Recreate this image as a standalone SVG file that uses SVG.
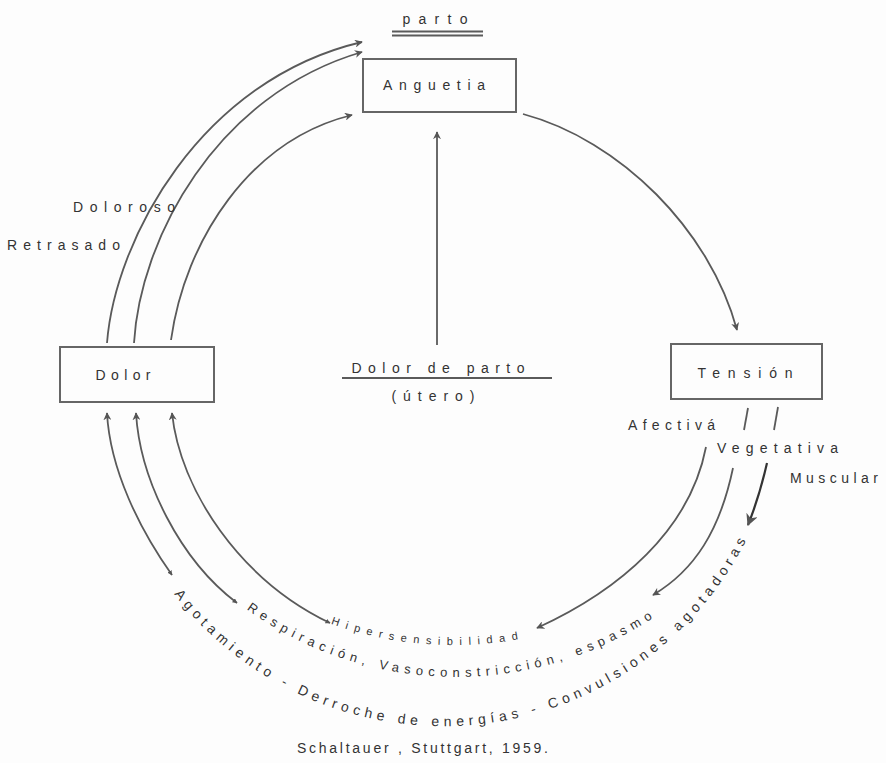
<svg xmlns="http://www.w3.org/2000/svg" width="886" height="763" viewBox="0 0 886 763">
<style>
text{font-family:"Liberation Sans",Arial,sans-serif;fill:#333;font-size:14px}
.box{fill:none;stroke:#666;stroke-width:2}
.ln{fill:none;stroke:#5a5a5a;stroke-width:1.8}
.arr{marker-end:url(#ah)}
.small{font-size:11px}
.mid{font-size:13px}
</style>
<defs>
<marker id="ah" viewBox="0 0 10 10" refX="9" refY="5" markerWidth="8" markerHeight="8" markerUnits="userSpaceOnUse" orient="auto"><path d="M0,0 L10,5 L0,10 L3,5 Z" fill="#555"/></marker>
<marker id="ah2" viewBox="0 0 10 10" refX="9" refY="5" markerWidth="12" markerHeight="12" markerUnits="userSpaceOnUse" orient="auto"><path d="M0,0 L10,5 L0,10 L3,5 Z" fill="#555"/></marker>
<marker id="sm" viewBox="0 0 10 10" refX="9" refY="5" markerWidth="5" markerHeight="5" markerUnits="userSpaceOnUse" orient="auto-start-reverse"><path d="M0,0 L10,5 L0,10 Z" fill="#555"/></marker>
<path id="pOuter" d="M164.5,581 A340,340 0 0 0 778,445"/>
<path id="pMid" d="M225.9,593.2 A358,358 0 0 0 709.1,572.1"/>
<path id="pHip" d="M316,618 A362,362 0 0 0 578,623"/>
</defs>
<rect width="886" height="763" fill="#fdfdfd"/>

<g id="connectors">
<path class="ln arr" d="M107,343 C115,240 200,80 362,42"/>
<path class="ln arr" d="M134,343 C140,240 215,95 362,52"/>
<path class="ln arr" d="M171,340 C185,240 250,140 352,115"/>
<path class="ln arr" d="M523,114 C620,140 710,230 737,330"/>
<path class="ln arr" d="M437,345 L437,132"/>
<path class="ln arr" d="M706,447 C690,530 620,590 537,628"/>
<path class="ln arr" d="M733,468 C720,530 695,570 653,595"/>
<path class="ln" style="stroke:#333;stroke-width:2.2;marker-end:url(#ah2)" d="M767,463 C762,485 756,505 748,525"/>
<path class="ln arr" style="marker-start:url(#sm)" d="M172,575 C140,530 110,470 107,413"/>
<path class="ln arr" style="marker-start:url(#sm)" d="M237,603 C180,560 140,480 136,413"/>
<path class="ln arr" style="marker-start:url(#sm)" d="M330,623 C240,580 180,490 172,413"/>
<path class="ln" d="M748,408 L744,430"/>
<path class="ln" d="M778,407 L774,430"/>
</g>

<g id="parto">
<text x="435" y="24" text-anchor="middle" textLength="65" lengthAdjust="spacing">parto</text>
<line class="ln" x1="392" y1="31.5" x2="483" y2="31.5"/>
<line class="ln" x1="392" y1="35.5" x2="483" y2="35.5"/>
</g>

<g id="anguetia">
<rect class="box" x="363" y="59" width="153" height="53"/>
<text x="434" y="90" text-anchor="middle" textLength="102" lengthAdjust="spacing">Anguetia</text>
</g>

<g id="dolor">
<rect class="box" x="60" y="347" width="154" height="55"/>
<text x="123" y="380" text-anchor="middle" textLength="55" lengthAdjust="spacing">Dolor</text>
</g>

<g id="tension">
<rect class="box" x="671" y="344" width="151" height="55"/>
<text x="745" y="378" text-anchor="middle" textLength="95" lengthAdjust="spacing">Tensión</text>
</g>

<g id="dolor-parto">
<text x="438" y="373" text-anchor="middle" textLength="173" lengthAdjust="spacing">Dolor de parto</text>
<line class="ln" x1="342" y1="378" x2="552" y2="378"/>
<text x="433" y="401" text-anchor="middle" textLength="83" lengthAdjust="spacing">(útero)</text>
</g>

<g id="labels">
<text x="73" y="212" textLength="102" lengthAdjust="spacing">Doloroso</text>
<text x="7" y="250" textLength="113" lengthAdjust="spacing">Retrasado</text>
<text x="628" y="430" textLength="87" lengthAdjust="spacing">Afectivá</text>
<text x="717" y="453" textLength="121" lengthAdjust="spacing">Vegetativa</text>
<text x="790" y="483" textLength="88" lengthAdjust="spacing">Muscular</text>
<text class="small"><textPath href="#pHip" startOffset="16" textLength="190" lengthAdjust="spacing">Hipersensibilidad</textPath></text>
<text class="mid"><textPath href="#pMid" startOffset="26" textLength="432" lengthAdjust="spacing">Respiración, Vasoconstricción, espasmo</textPath></text>
<text><textPath href="#pOuter" startOffset="16" textLength="684" lengthAdjust="spacing">Agotamiento - Derroche de energías - Convulsiones agotadoras</textPath></text>
<text x="297" y="753" textLength="251" lengthAdjust="spacing">Schaltauer , Stuttgart, 1959.</text>
</g>
</svg>
